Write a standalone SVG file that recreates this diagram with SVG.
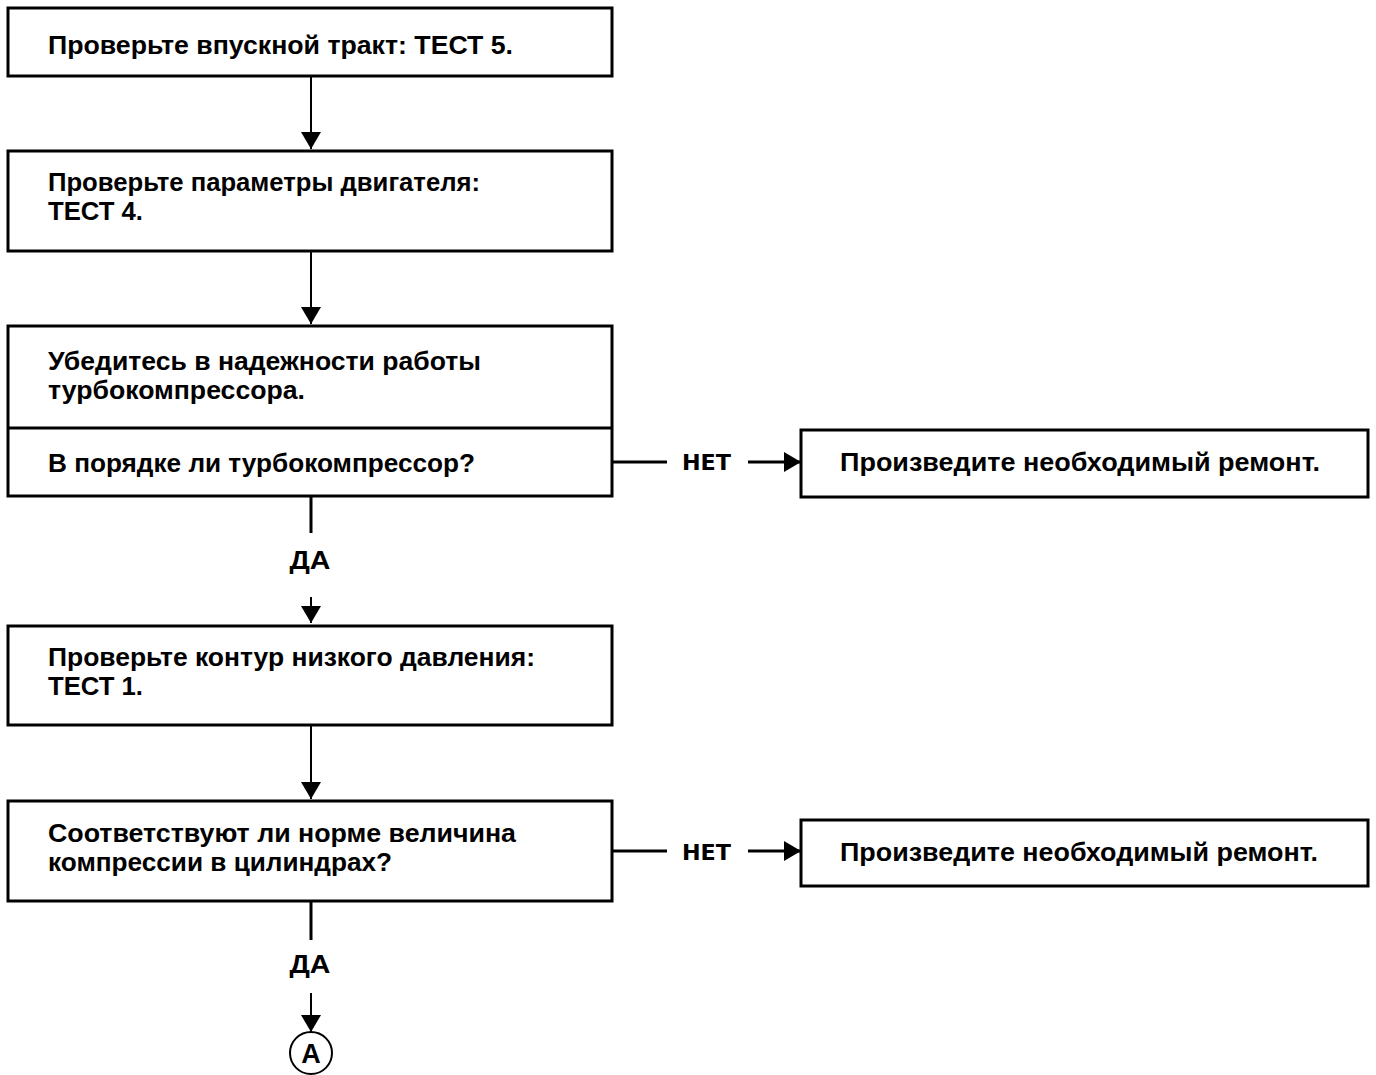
<svg xmlns="http://www.w3.org/2000/svg" width="1376" height="1075" viewBox="0 0 1376 1075">
<style>
.box{fill:#fff;stroke:#000;stroke-width:3}
.t{font-family:"Liberation Sans",Arial,sans-serif;font-weight:bold;font-size:25px;fill:#000}
.c{font-family:"Liberation Sans",Arial,sans-serif;font-weight:bold;font-size:26px;fill:#000}
.lbl{font-family:"DejaVu Sans","Liberation Sans",sans-serif;font-weight:bold;font-size:21px;fill:#000}
.ln{stroke:#000;stroke-width:3;fill:none}
.ln2{stroke:#000;stroke-width:2;fill:none}
</style>
<defs>
<marker id="ah" markerUnits="userSpaceOnUse" markerWidth="17" markerHeight="20" refX="17" refY="10" orient="auto" viewBox="0 0 17 20">
<path d="M0,0 L17,10 L0,20 Z" fill="#000"/>
</marker>
</defs>
<g id="connectors">
<line class="ln2" x1="311" y1="76" x2="311" y2="149" marker-end="url(#ah)"/>
<line class="ln2" x1="311" y1="251" x2="311" y2="324" marker-end="url(#ah)"/>
<line class="ln" x1="311" y1="496" x2="311" y2="533"/>
<text class="t" x="310" y="569" text-anchor="middle" textLength="41" lengthAdjust="spacingAndGlyphs">ДА</text>
<line class="ln2" x1="311" y1="597" x2="311" y2="623" marker-end="url(#ah)"/>
<line class="ln2" x1="311" y1="725" x2="311" y2="799" marker-end="url(#ah)"/>
<line class="ln" x1="612" y1="462" x2="667" y2="462"/>
<text class="lbl" x="682" y="470" textLength="49" lengthAdjust="spacingAndGlyphs">НЕТ</text>
<line class="ln" x1="748" y1="462" x2="801" y2="462" marker-end="url(#ah)"/>
<line class="ln" x1="612" y1="851" x2="667" y2="851"/>
<text class="lbl" x="682" y="860" textLength="49" lengthAdjust="spacingAndGlyphs">НЕТ</text>
<line class="ln" x1="748" y1="851" x2="801" y2="851" marker-end="url(#ah)"/>
<line class="ln" x1="311" y1="901" x2="311" y2="940"/>
<text class="t" x="310" y="973" text-anchor="middle" textLength="41" lengthAdjust="spacingAndGlyphs">ДА</text>
<line class="ln2" x1="311" y1="993" x2="311" y2="1032" marker-end="url(#ah)"/>
</g>
<g id="n1">
<rect class="box" x="8" y="8" width="604" height="68"/>
<text class="c" x="48" y="54" textLength="465" lengthAdjust="spacingAndGlyphs">Проверьте впускной тракт: ТЕСТ 5.</text>
</g>
<g id="n2">
<rect class="box" x="8" y="151" width="604" height="100"/>
<text class="c" x="48" y="191" textLength="432" lengthAdjust="spacingAndGlyphs">Проверьте параметры двигателя:</text>
<text class="c" x="48" y="220" textLength="95" lengthAdjust="spacingAndGlyphs">ТЕСТ 4.</text>
</g>
<g id="n3">
<rect class="box" x="8" y="326" width="604" height="170"/>
<line class="ln" x1="8" y1="428" x2="612" y2="428"/>
<text class="c" x="48" y="370" textLength="433" lengthAdjust="spacingAndGlyphs">Убедитесь в надежности работы</text>
<text class="c" x="48" y="399" textLength="257" lengthAdjust="spacingAndGlyphs">турбокомпрессора.</text>
<text class="c" x="48" y="472" textLength="427" lengthAdjust="spacingAndGlyphs">В порядке ли турбокомпрессор?</text>
</g>
<g id="r1">
<rect class="box" x="801" y="430" width="567" height="67"/>
<text class="t" x="840" y="471" textLength="480" lengthAdjust="spacingAndGlyphs">Произведите необходимый ремонт.</text>
</g>
<g id="n4">
<rect class="box" x="8" y="626" width="604" height="99"/>
<text class="t" x="48" y="666" textLength="487" lengthAdjust="spacingAndGlyphs">Проверьте контур низкого давления:</text>
<text class="t" x="48" y="695" textLength="95" lengthAdjust="spacingAndGlyphs">ТЕСТ 1.</text>
</g>
<g id="n5">
<rect class="box" x="8" y="801" width="604" height="100"/>
<text class="t" x="48" y="842" textLength="468" lengthAdjust="spacingAndGlyphs">Соответствуют ли норме величина</text>
<text class="t" x="48" y="871" textLength="344" lengthAdjust="spacingAndGlyphs">компрессии в цилиндрах?</text>
</g>
<g id="r2">
<rect class="box" x="801" y="820" width="567" height="66"/>
<text class="t" x="840" y="861" textLength="478" lengthAdjust="spacingAndGlyphs">Произведите необходимый ремонт.</text>
</g>
<g id="a">
<circle cx="311" cy="1053" r="21" fill="#fff" stroke="#000" stroke-width="2"/>
<text class="t" x="311" y="1063" text-anchor="middle" style="font-size:27px">A</text>
</g>
</svg>
